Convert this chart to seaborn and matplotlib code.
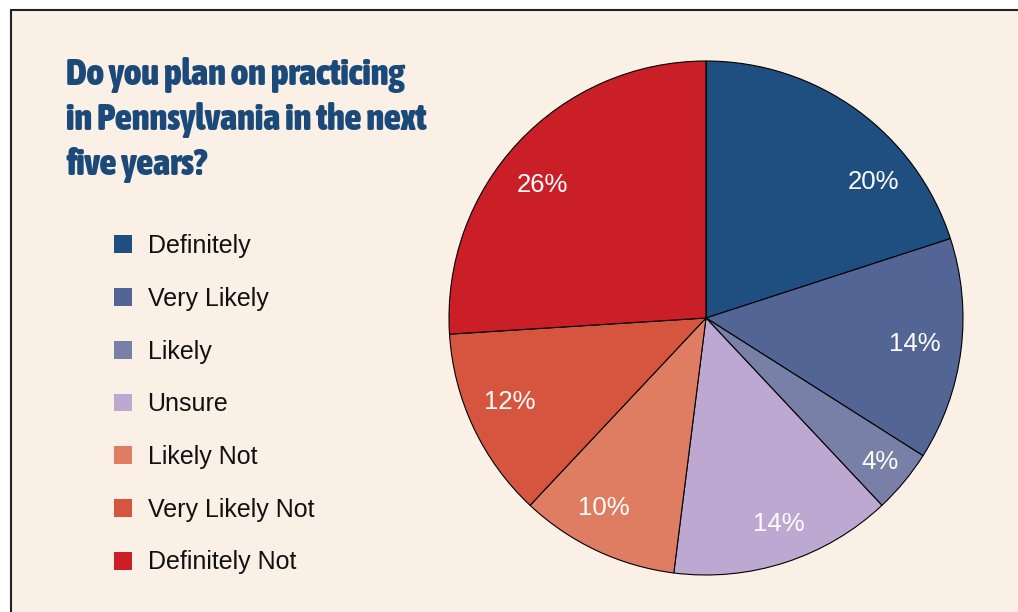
import matplotlib
matplotlib.use("Agg")
import matplotlib.pyplot as plt
import seaborn as sns
import numpy as np
from matplotlib.patches import Rectangle
from matplotlib.lines import Line2D
from matplotlib import font_manager as fm

categories = ["Definitely", "Very Likely", "Likely", "Unsure", "Likely Not", "Very Likely Not", "Definitely Not"]
values = [20, 14, 4, 14, 10, 12, 26]
colors = ["#1F4E80", "#526595", "#7880A8", "#BDA8D2", "#DF7D63", "#D6553F", "#CB1F27"]
title_lines = ["Do you plan on practicing", "in Pennsylvania in the next", "five years?"]

sns.set_theme(style="white")
plt.rcParams['font.family'] = ['Liberation Sans', 'DejaVu Sans']


def pick_condensed_bold():
    best = None
    for f in fm.fontManager.ttflist:
        cond = (str(f.stretch) in ("condensed", "semi-condensed", "extra-condensed", "ultra-condensed")
                or "Narrow" in f.name or "Condensed" in f.name)
        w = f.weight if isinstance(f.weight, int) else (700 if "bold" in str(f.weight).lower() else 400)
        if cond and w >= 600 and f.style == "normal":
            score = w
            if best is None or score > best[0]:
                best = (score, f.fname)
    if best:
        return fm.FontProperties(fname=best[1])
    return fm.FontProperties(family="DejaVu Sans", weight="bold")


W, H = 1018, 612
fig = plt.figure(figsize=(W / 100, H / 100), dpi=100)
fig.patch.set_facecolor("white")

bg = "#FAF0E6"
fig.patches.append(Rectangle((11 / W, 0), 1 - 11 / W, 1 - 10 / H, transform=fig.transFigure,
                             facecolor=bg, edgecolor="none", zorder=-5))
fig.lines.append(Line2D([11 / W, 1], [1 - 10 / H, 1 - 10 / H], transform=fig.transFigure, color="#222222", lw=1.5))
fig.lines.append(Line2D([11 / W, 11 / W], [0, 1 - 10 / H], transform=fig.transFigure, color="#222222", lw=1.5))

cx, cy, r = 706, 318, 257
ax = fig.add_axes([(cx - r) / W, (H - cy - r) / H, 2 * r / W, 2 * r / H])
ax.set_facecolor("none")
wedges, texts, autotexts = ax.pie(values, colors=colors, startangle=90, counterclock=False,
                                  autopct=lambda p: f"{p:.0f}%", pctdistance=0.83,
                                  wedgeprops=dict(edgecolor="black", linewidth=0.8),
                                  textprops=dict(color="white", fontsize=18.5))
# label placement offsets (degrees, radius fraction) to follow the reference
label_angle_shift = [-15, 0, 0, 1.5, -3, -2, 4]
label_radius = [0.84, 0.82, 0.88, 0.85, 0.84, 0.83, 0.82]
theta = 90.0
for i, v in enumerate(values):
    span = 360.0 * v / sum(values)
    mid = np.deg2rad(theta - span / 2 + label_angle_shift[i])
    autotexts[i].set_position((label_radius[i] * np.cos(mid), label_radius[i] * np.sin(mid)))
    theta -= span
ax.set_xlim(-1, 1)
ax.set_ylim(-1, 1)
ax.set_aspect("equal")
ax.axis("off")

fp = pick_condensed_bold()
fp.set_size(24)
tt = [fig.text(66 / W, 1 - (85 + 45 * i) / H, line, ha="left", va="baseline", color="#1B4A7A",
               fontproperties=fp) for i, line in enumerate(title_lines)]
renderer = fig.canvas.get_renderer()
wpx = tt[0].get_window_extent(renderer).width
size = min(30, 24 * 340 / wpx)
for t in tt:
    t.set_fontsize(size)

leg = fig.legend(wedges, categories, loc="upper left", bbox_to_anchor=(104 / W, 1 - 224 / H),
                 frameon=False, fontsize=18, handlelength=0.72, handleheight=0.72,
                 handletextpad=0.62, labelspacing=1.15, borderaxespad=0)
for h in leg.legend_handles:
    h.set_edgecolor("none")
for t in leg.get_texts():
    t.set_color("#111111")

fig.savefig("out.png", dpi=100, facecolor="white")
